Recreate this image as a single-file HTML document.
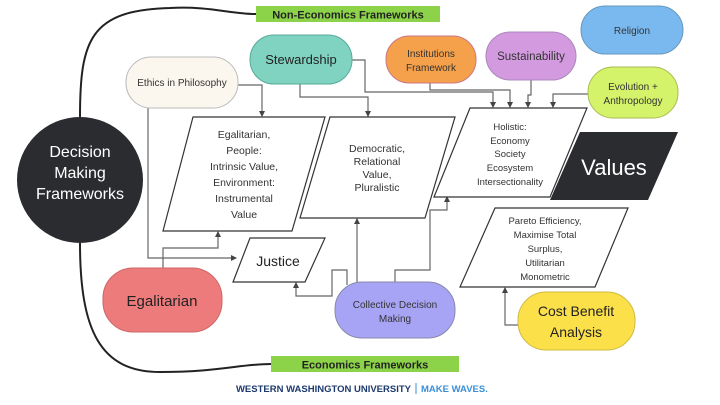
<!DOCTYPE html>
<html><head><meta charset="utf-8"><style>
html,body{margin:0;padding:0;background:#fff}
svg{display:block;font-family:"Liberation Sans",sans-serif}
</style></head><body>
<svg width="720" height="405" viewBox="0 0 720 405" xmlns="http://www.w3.org/2000/svg">
<defs><marker id="a" markerWidth="6" markerHeight="6" refX="3" refY="5" orient="auto-start-reverse" markerUnits="userSpaceOnUse"><path d="M0,0 L6,0 L3,6 z" fill="#444"/></marker>
<marker id="r" markerWidth="6" markerHeight="6" refX="5" refY="3" orient="0" markerUnits="userSpaceOnUse"><path d="M0,0 L6,3 L0,6 z" fill="#444"/></marker>
<marker id="u" markerWidth="6" markerHeight="6" refX="3" refY="1" orient="0" markerUnits="userSpaceOnUse"><path d="M0,6 L6,6 L3,0 z" fill="#444"/></marker>
<marker id="d" markerWidth="6" markerHeight="6" refX="3" refY="5" orient="0" markerUnits="userSpaceOnUse"><path d="M0,0 L6,0 L3,6 z" fill="#444"/></marker></defs>
<!-- big curves -->
<path d="M80,117 C80,40 90,10 170,8 C210,6 230,14 256,14" fill="none" stroke="#222" stroke-width="2"/>
<path d="M80,243 C80,330 100,372 160,372 C220,372 240,364 271,364" fill="none" stroke="#222" stroke-width="2"/>
<rect x="256" y="6" width="184" height="16" fill="#8dd34a"/>
<text x="348" y="18.5" font-size="11" font-weight="bold" text-anchor="middle" fill="#222">Non-Economics Frameworks</text>
<rect x="271" y="356" width="188" height="16" fill="#8dd34a"/>
<text x="365" y="368.5" font-size="11" font-weight="bold" text-anchor="middle" fill="#222">Economics Frameworks</text>
<circle cx="80" cy="180" r="63" fill="#2b2c30"/>
<g fill="#fff" font-size="16" text-anchor="middle"><text x="80" y="157">Decision</text><text x="80" y="178">Making</text><text x="80" y="199">Frameworks</text></g>
<!-- connectors -->
<g fill="none" stroke="#666" stroke-width="1.2">
<path d="M238,85 H262 V116" marker-end="url(#d)"/>
<path d="M148,108 V258 H236" marker-end="url(#r)"/>
<path d="M163,268 V248 H218 V232" marker-end="url(#u)"/>
<path d="M300,84 V97 H368 V116" marker-end="url(#d)"/>
<path d="M352,60 H365 V92 H493 V107" marker-end="url(#d)"/>
<path d="M430,83 V90 H510 V107" marker-end="url(#d)"/>
<path d="M531,80 V95 H528 V107" marker-end="url(#d)"/>
<path d="M588,94 H553 V107" marker-end="url(#d)"/>
<path d="M357,282 V219" marker-end="url(#u)"/>
<path d="M395,282 V270 H430 V210 H447 V197" marker-end="url(#u)"/>
<path d="M347,285 V270 H332 V296 H296 V283" marker-end="url(#u)"/>
<path d="M518,325 H505 V288" marker-end="url(#u)"/>
</g>
<!-- pills -->
<rect x="126" y="57" width="112" height="51" rx="25" fill="#fbf7ee" stroke="#bbb"/>
<text x="182" y="86" font-size="10" text-anchor="middle" fill="#333">Ethics in Philosophy</text>
<rect x="250" y="35" width="102" height="49" rx="24" fill="#7fd3c0" stroke="#5a9"/>
<text x="301" y="64" font-size="13" text-anchor="middle" fill="#222">Stewardship</text>
<rect x="386" y="36" width="90" height="47" rx="23" fill="#f5a04a" stroke="#c78"/>
<text x="431" y="57" font-size="10" text-anchor="middle" fill="#333">Institutions</text><text x="431" y="71" font-size="10" text-anchor="middle" fill="#333">Framework</text>
<rect x="486" y="32" width="90" height="48" rx="24" fill="#d49ae0" stroke="#a8b"/>
<text x="531" y="60" font-size="11.5" text-anchor="middle" fill="#333">Sustainability</text>
<rect x="581" y="6" width="102" height="48" rx="24" fill="#7ab9f0" stroke="#69b"/>
<text x="632" y="34" font-size="10" text-anchor="middle" fill="#333">Religion</text>
<rect x="588" y="67" width="90" height="51" rx="25" fill="#d4f26a" stroke="#ab5"/>
<text x="633" y="90" font-size="10" text-anchor="middle" fill="#333">Evolution +</text><text x="633" y="104" font-size="10" text-anchor="middle" fill="#333">Anthropology</text>
<rect x="103" y="268" width="119" height="64" rx="30" fill="#ee7b7b" stroke="#c66"/>
<text x="162" y="306" font-size="15" text-anchor="middle" fill="#222">Egalitarian</text>
<rect x="335" y="282" width="120" height="56" rx="27" fill="#a8a4f5" stroke="#88a"/>
<text x="395" y="308" font-size="10" text-anchor="middle" fill="#333">Collective Decision</text><text x="395" y="322" font-size="10" text-anchor="middle" fill="#333">Making</text>
<rect x="518" y="292" width="117" height="58" rx="28" fill="#fce04a" stroke="#cb4"/>
<text x="576" y="316" font-size="14" text-anchor="middle" fill="#222">Cost Benefit</text><text x="576" y="337" font-size="14" text-anchor="middle" fill="#222">Analysis</text>
<!-- parallelograms -->
<g fill="#fff" stroke="#333" stroke-width="1.2">
<polygon points="193,117 325,117 292,231 163,231"/>
<polygon points="330,117 455,117 425,218 300,218"/>
<polygon points="470,108 587,108 550,197 434,197"/>
<polygon points="250,238 325,238 305,282 233,282"/>
<polygon points="495,208 628,208 595,287 460,287"/>
</g>
<polygon points="580,132 678,132 648,200 550,200" fill="#2b2c30"/>
<text x="614" y="175" font-size="22" fill="#fff" text-anchor="middle">Values</text>
<g font-size="10.5" text-anchor="middle" fill="#333">
<text x="244" y="138">Egalitarian,</text><text x="244" y="154">People:</text><text x="244" y="170">Intrinsic Value,</text><text x="244" y="186">Environment:</text><text x="244" y="202">Instrumental</text><text x="244" y="218">Value</text>
<text x="377" y="152">Democratic,</text><text x="377" y="165">Relational</text><text x="377" y="178">Value,</text><text x="377" y="191">Pluralistic</text>
</g>
<g font-size="9.5" text-anchor="middle" fill="#333">
<text x="510" y="130">Holistic:</text><text x="510" y="144">Economy</text><text x="510" y="157">Society</text><text x="510" y="171">Ecosystem</text><text x="510" y="185">Intersectionality</text>
<text x="545" y="224">Pareto Efficiency,</text><text x="545" y="238">Maximise Total</text><text x="545" y="252">Surplus,</text><text x="545" y="266">Utilitarian</text><text x="545" y="280">Monometric</text>
</g>
<text x="278" y="266" font-size="14" text-anchor="middle" fill="#222">Justice</text>
<text x="411" y="392" font-size="9.5" font-weight="bold" text-anchor="end" fill="#1d3a6e">WESTERN WASHINGTON UNIVERSITY</text>
<line x1="416" y1="383" x2="416" y2="394" stroke="#3a8fd8"/>
<text x="421" y="392" font-size="9.5" font-weight="bold" fill="#3a8fd8">MAKE WAVES.</text>
</svg>
</body></html>
